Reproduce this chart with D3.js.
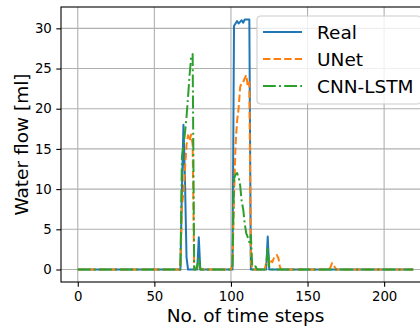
<!DOCTYPE html>
<html>
<head>
<meta charset="utf-8">
<script src="https://cdn.jsdelivr.net/npm/d3@7"></script>
<style>
  body { margin: 0; background: #fff; }
  svg { font-family: "DejaVu Sans", sans-serif; display: block; }
</style>
</head>
<body>
<div id="chart"></div>
<script>
// Series values, one per time step (0..219)
const realFlow = [
  0,0,0,0,0,0,0,0,0,0,  0,0,0,0,0,0,0,0,0,0,
  0,0,0,0,0,0,0,0,0,0,  0,0,0,0,0,0,0,0,0,0,
  0,0,0,0,0,0,0,0,0,0,  0,0,0,0,0,0,0,0,0,0,
  0,0,0,0,0,0,0,0,10,18,  11,1.5,0,0,0,0,0,0,0,4.0,
  0,0,0,0,0,0,0,0,0,0,  0,0,0,0,0,0,0,0,0,0,
  0,0,30.3,30.6,30.9,30.6,30.8,31.0,30.7,31.1,  31.1,31.1,31.1,0,0,0,0,0,0,0,
  0,0,0,0,4.1,0,0,0,0,0,  0,0,0,0,0,0,0,0,0,0,
  0,0,0,0,0,0,0,0,0,0,  0,0,0,0,0,0,0,0,0,0,
  0,0,0,0,0,0,0,0,0,0,  0,0,0,0,0,0,0,0,0,0,
  0,0,0,0,0,0,0,0,0,0,  0,0,0,0,0,0,0,0,0,0,
  0,0,0,0,0,0,0,0,0,0,  0,0,0,0,0,0,0,0,0,0
];
const unetFlow = [
  0,0,0,0,0,0,0,0,0,0,  0,0,0,0,0,0,0,0,0,0,
  0,0,0,0,0,0,0,0,0,0,  0,0,0,0,0,0,0,0,0,0,
  0,0,0,0,0,0,0,0,0,0,  0,0,0,0,0,0,0,0,0,0,
  0,0,0,0,0,0,0,0,8,9.5,  12.5,15.5,16.7,16,16.8,15.5,0,0,0.3,0.5,
  0.2,0,0,0,0,0,0,0,0,0,  0,0,0,0,0,0,0,0,0,0,
  0,0.5,9,15.5,18.5,20,22.7,23.2,23.3,23.8,  24.2,22.8,23.3,1,0,0,0,0,0,0,
  0,0,0,0.8,1.3,0.8,1.3,0.9,1.4,1.5,  1.8,1.4,0.3,0,0,0,0,0,0,0,
  0,0,0,0,0,0,0,0,0,0,  0,0,0,0,0,0,0,0,0,0,
  0,0,0,0,0,0.3,0.8,0.6,0.2,0,  0,0,0,0,0,0,0,0,0,0,
  0,0,0,0,0,0,0,0,0,0,  0,0,0,0,0,0,0,0,0,0,
  0,0,0,0,0,0,0,0,0,0,  0,0,0,0,0,0,0,0,0,0
];
const cnnLstmFlow = [
  0,0,0,0,0,0,0,0,0,0,  0,0,0,0,0,0,0,0,0,0,
  0,0,0,0,0,0,0,0,0,0,  0,0,0,0,0,0,0,0,0,0,
  0,0,0,0,0,0,0,0,0,0,  0,0,0,0,0,0,0,0,0,0,
  0,0,0,0,0,0,0,0,14,15.5,  17,19,21.5,24.2,26.4,26.8,0,0,0.5,1.5,
  0,0,0,0,0,0,0,0,0,0,  0,0,0,0,0,0,0,0,0,0,
  0,0.5,11.3,11.8,12,11.5,10.5,8.5,7.5,5.7,  4.5,4.0,3.4,4.3,0,0,0.4,0,0,0,
  0,0,0,0.5,2.8,0.3,0,0,0,0,  0,0,0,0,0,0,0,0,0,0,
  0,0,0,0,0,0,0,0,0,0,  0,0,0,0,0,0,0,0,0,0,
  0,0,0,0,0,0,0,0,0,0,  0,0,0,0,0,0,0,0,0,0,
  0,0,0,0,0,0,0,0,0,0,  0,0,0,0,0,0,0,0,0,0,
  0,0,0,0,0,0,0,0,0,0,  0,0,0,0,0,0,0,0,0,0
];
const seriesNames = ["Real", "UNet", "CNN-LSTM"];
const xTicks = [0, 50, 100, 150, 200];
const yTicks = [0, 5, 10, 15, 20, 25, 30];

function drawChart(containerId) {
    d3.select(containerId).selectAll("*").remove();
    const margin = {top: 7, left: 61};
    const width = 369, height = 275;

    const svg = d3.select(containerId).append("svg")
        .attr("width", 420)
        .attr("height", 329);
    const g = svg.append("g")
        .attr("transform", "translate(" + margin.left + "," + margin.top + ")");

    const n = realFlow.length;
    const yMax = d3.max([...realFlow, ...unetFlow, ...cnnLstmFlow]);
    // matplotlib style 5% margins
    const xScale = d3.scaleLinear().domain([-(n - 1) * 0.05, (n - 1) * 1.05]).range([0, width]);
    const yScale = d3.scaleLinear().domain([-yMax * 0.05, yMax * 1.05]).range([height, 0]);

    // grid
    g.append("g").selectAll("line").data(xTicks).enter().append("line")
        .attr("x1", d => xScale(d)).attr("x2", d => xScale(d))
        .attr("y1", 0).attr("y2", height)
        .attr("stroke", "#b0b0b0").attr("stroke-width", 1.1);
    g.append("g").selectAll("line").data(yTicks).enter().append("line")
        .attr("y1", d => yScale(d)).attr("y2", d => yScale(d))
        .attr("x1", 0).attr("x2", width)
        .attr("stroke", "#b0b0b0").attr("stroke-width", 1.1);

    // lines
    const series = [
        {name: seriesNames[0], values: realFlow, color: "#1f77b4", dash: null},
        {name: seriesNames[1], values: unetFlow, color: "#ff7f0e", dash: "7.4,3.2"},
        {name: seriesNames[2], values: cnnLstmFlow, color: "#2ca02c", dash: "12.8,3.2,2,3.2"}
    ];
    const line = d3.line().x((d, i) => xScale(i)).y(d => yScale(d));
    series.forEach(s => {
        g.append("path")
            .datum(s.values)
            .attr("d", line)
            .attr("fill", "none")
            .attr("stroke", s.color)
            .attr("stroke-width", 2)
            .attr("stroke-linejoin", "round")
            .attr("stroke-dasharray", s.dash);
    });

    // axes
    const xAxis = g.append("g")
        .attr("transform", "translate(0," + height + ")")
        .call(d3.axisBottom(xScale).tickValues(xTicks).tickSize(4.7).tickPadding(4.5));
    const yAxis = g.append("g")
        .call(d3.axisLeft(yScale).tickValues(yTicks).tickSize(4.7).tickPadding(4.5));
    [xAxis, yAxis].forEach(ax => {
        ax.select(".domain").remove();
        ax.selectAll("line").attr("stroke", "#000").attr("stroke-width", 1.1);
        ax.selectAll("text").attr("fill", "#000")
            .style("font-size", "13.3px")
            .style("font-family", "DejaVu Sans");
    });

    // spines
    g.append("rect")
        .attr("x", 0).attr("y", 0).attr("width", width).attr("height", height)
        .attr("fill", "none").attr("stroke", "#000").attr("stroke-width", 1.1);

    // axis labels
    svg.append("text")
        .attr("x", margin.left + xScale(109.5))
        .attr("y", 321.5)
        .attr("text-anchor", "middle")
        .style("font-size", "18.5px")
        .text("No. of time steps");
    svg.append("text")
        .attr("transform", "translate(28," + (margin.top + height / 2) + ") rotate(-90)")
        .attr("text-anchor", "middle")
        .style("font-size", "18.5px")
        .text("Water flow [ml]");

    // legend
    const legend = svg.append("g").attr("transform", "translate(257,16)");
    legend.append("rect")
        .attr("x", 0).attr("y", 0).attr("width", 164).attr("height", 88)
        .attr("rx", 3.7)
        .attr("fill", "#fff").attr("fill-opacity", 0.8)
        .attr("stroke", "#cccccc").attr("stroke-width", 1.1);
    series.forEach((s, i) => {
        const yy = 16 + i * 27;
        legend.append("line")
            .attr("x1", 6).attr("x2", 45).attr("y1", yy).attr("y2", yy)
            .attr("stroke", s.color).attr("stroke-width", 2)
            .attr("stroke-dasharray", s.dash);
        legend.append("text")
            .attr("x", 60).attr("y", yy + 6.5)
            .style("font-size", "18.5px")
            .text(s.name);
    });
}

drawChart("#chart");
</script>
</body>
</html>
